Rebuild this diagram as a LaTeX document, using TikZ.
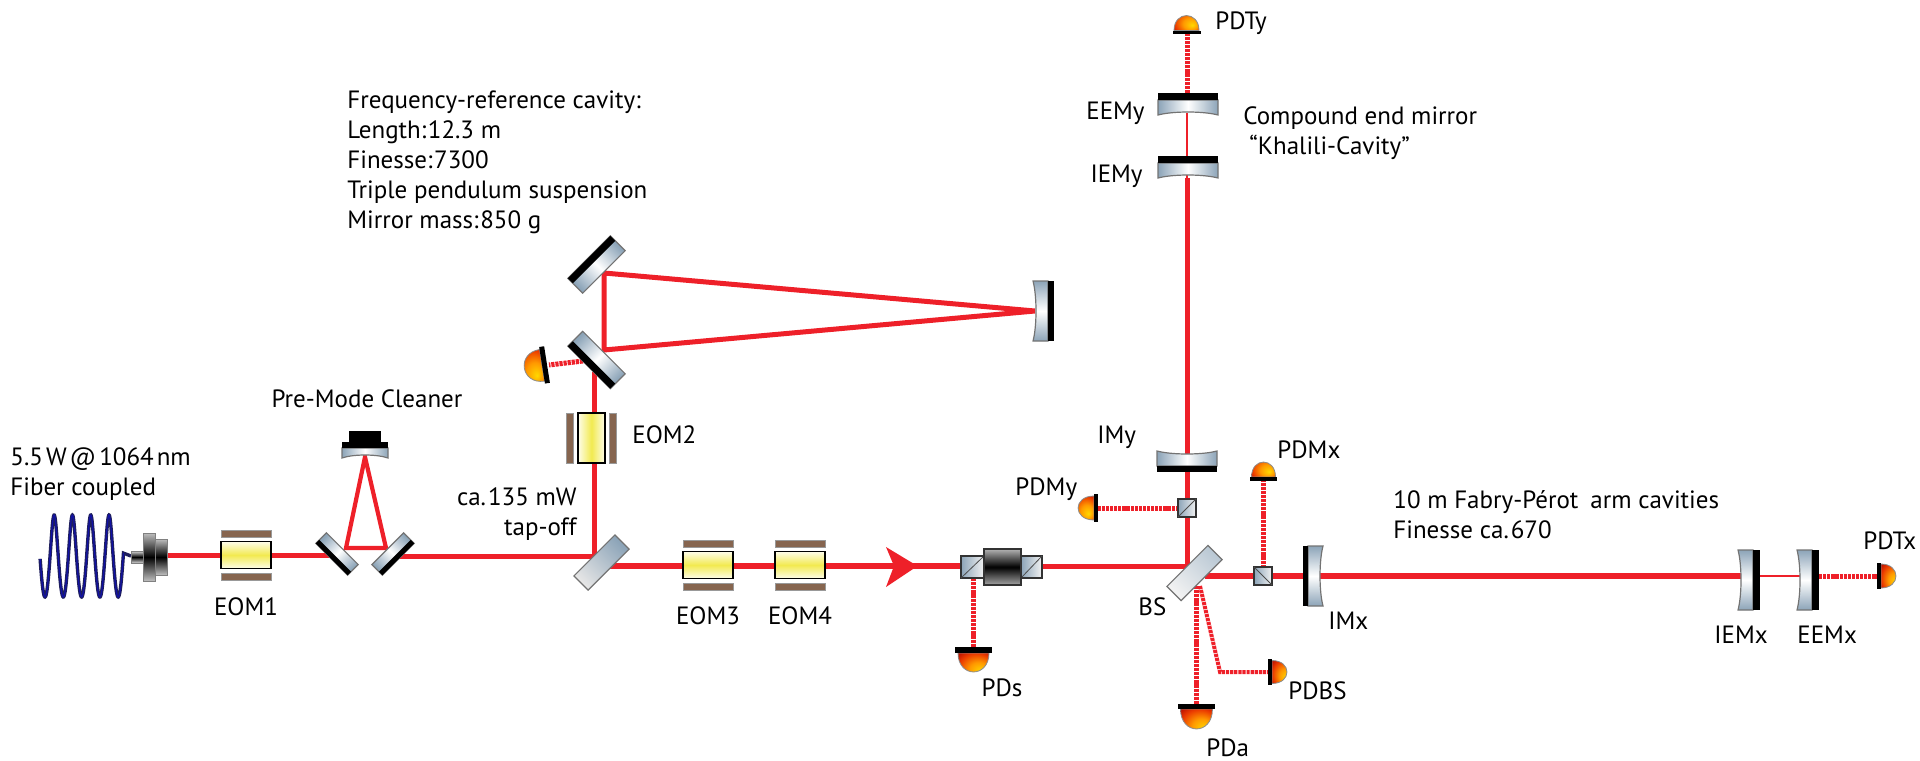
\documentclass[tikz,border=0pt]{standalone}
\usepackage{fontspec}
\setmainfont{PT Sans}
\usepackage{tikz}

\definecolor{beamred}{HTML}{EE2029}
\definecolor{steel}{HTML}{8CA4B8}
\definecolor{brownplate}{HTML}{86654F}
\definecolor{eomyellow}{HTML}{F2EA50}
\definecolor{fibreblue}{HTML}{1F1F5C}

\pgfdeclareradialshading{pddome}{\pgfpoint{12bp}{-12bp}}{%
  color(0bp)=(yellow!70!orange);
  color(15bp)=(orange!80!yellow);
  color(29bp)=(orange!50!red!92!black);
  color(42bp)=(red!65!black);
  color(50bp)=(red!55!black)}

\begin{document}
\begin{tikzpicture}[x=0.5pt,y=-0.5pt,
    beam/.style={beamred,line width=2.5pt,line join=miter},
    thickbeam/.style={beamred,line width=3.3pt},
    thinbeam/.style={beamred,line width=1.2pt},
    pdbeam/.style={beamred,line width=2.5pt,dash pattern=on 1.6pt off 0.45pt},
    label/.style={font=\fontsize{12.5}{15.1}\selectfont,inner sep=0pt},
    glass/.style={draw=black!55,line width=0.6pt},
    cube/.style={draw=black!80,line width=0.6pt,left color=steel,right color=black!5},
    % tilted flat mirror: length, thickness, shading angle, side of the coating
    pics/flatmirror/.style n args={4}{code={
      \shade[glass,left color=steel,right color=steel,middle color=white,shading angle=#3]
        (-#1/2,-#2/2) rectangle (#1/2,#2/2);
      \fill[black] (-#1/2,#4*#2/2) rectangle (#1/2,#4*#2/6);
    }},
    % curved mirror: half length, coating, body, shading angle
    pics/curvedmirror/.style n args={4}{code={
      \shade[glass,left color=steel,right color=steel,middle color=white,shading angle=#4]
        (-#1,#2) -- (#1,#2) -- (#1,#2+#3)
        .. controls (#1/2,#2+#3-4) and (-#1/2,#2+#3-4) .. (-#1,#2+#3) -- cycle;
      \fill[black] (-#1,0) rectangle (#1,#2);
    }},
    % photodiode: half strip, strip, half dome, dome height
    pics/photodiode/.style n args={4}{code={
      \shade[shading=pddome,draw=black!45,line width=0.4pt]
        (-#3,#2) .. controls (-#3,#2+1.33*#4) and (#3,#2+1.33*#4) .. (#3,#2) -- cycle;
      \fill[black] (-#1,0) rectangle (#1,#2);
    }},
    % electro-optic modulator with its two plates
    pics/eom/.style={code={
      \shade[draw=black,line width=0.6pt,left color=eomyellow!12,right color=eomyellow!12,
        middle color=eomyellow,shading angle=#1] (-25,-13.5) rectangle (25,13.5);
      \fill[brownplate,draw=black!40,line width=0.3pt] (-25,-25) rectangle (25,-18);
      \fill[brownplate,draw=black!40,line width=0.3pt] (-25,18) rectangle (25,25);
    }}]
  \useasboundingbox (0,0) rectangle (1920,760);

  % points on the beam path
  \coordinate (coupler) at (167,555);
  \coordinate (pmcL) at (337,555);
  \coordinate (pmcR) at (393,556);
  \coordinate (pmcA) at (346,548);
  \coordinate (pmcB) at (386,548);
  \coordinate (pmcT) at (365,457);
  \coordinate (tapin) at (594,556);
  \coordinate (tapout) at (605,566);
  \coordinate (tapup) at (594,372);
  \coordinate (frcA) at (604,350);
  \coordinate (frcB) at (604,273);
  \coordinate (frcC) at (1035,311);
  \coordinate (isoOut) at (1042,566);
  \coordinate (isoPD) at (973,578);
  \coordinate (pdsTop) at (973,647);
  \coordinate (bsIn) at (1187,566);
  \coordinate (bsOut) at (1205,576);
  \coordinate (bsA) at (1196,586);
  \coordinate (bsB) at (1200,586);
  \coordinate (bsBend) at (1220,672);
  \coordinate (cubeY) at (1187,508);
  \coordinate (cubeX) at (1263,576);
  \coordinate (imy) at (1187,451);
  \coordinate (iemy) at (1187,178);
  \coordinate (eemy) at (1187,113);
  \coordinate (pdty) at (1187,34);
  \coordinate (eemyB) at (1187,93);
  \coordinate (pdmy) at (1097,508);
  \coordinate (pdmx) at (1263,481);
  \coordinate (pda) at (1196,704);
  \coordinate (pdbs) at (1268,672);
  \coordinate (iemx) at (1753,576);
  \coordinate (iemxB) at (1760,576);
  \coordinate (eemx) at (1800,576);
  \coordinate (eemxB) at (1819,576);
  \coordinate (pdtx) at (1877,576);
  \coordinate (tapPD) at (583,361);
  \coordinate (tapPDend) at (549,365);

  % fibre coil
  \draw[fibreblue,line width=1.7pt] plot[domain=-86:1534,samples=260]
    ({45+0.05083*\x+0.5*sin(\x)},{556+41*cos(\x)}) -- (131,556);
  \draw[blue!45!fibreblue,line width=0.6pt] plot[domain=-86:1534,samples=260]
    ({45+0.05083*\x+0.5*sin(\x)},{556+41*cos(\x)});

  % beams
  \draw[beam] (coupler) -- (pmcL);
  \draw[beam,line width=2.1pt] (pmcA) -- (pmcB) -- (pmcT) -- cycle;
  \draw[beam] (pmcR) -- (tapin);
  \draw[beam] (tapin) -- (tapup);
  \draw[beam] (frcA) -- (frcC) -- (frcB) -- cycle;
  \draw[thickbeam] (tapout) -- (isoOut);
  \draw[beam] (isoOut) -- (bsIn);
  \draw[beam] (bsIn) -- (imy);
  \draw[beam] (imy) -- (iemy);
  \draw[thinbeam] (iemy) -- (eemy);
  \draw[thickbeam] (bsOut) -- (iemx);
  \draw[thinbeam] (iemxB) -- (eemx);

  % detection beams
  \draw[pdbeam] (tapPD) -- (tapPDend);
  \draw[pdbeam] (isoPD) -- (pdsTop);
  \draw[pdbeam] (cubeY) -- (pdmy);
  \draw[pdbeam] (cubeX) -- (pdmx);
  \draw[pdbeam] (eemyB) -- (pdty);
  \draw[pdbeam] (eemxB) -- (pdtx);
  \draw[pdbeam] (bsA) -- (pda);
  \draw[pdbeam,line width=2pt] (bsB) -- (bsBend) -- (pdbs);

  % direction of the beam
  \fill[beamred] (917.5,566) -- (886,547) -- (894,566) -- (886,587) -- cycle;

  % fibre coupler
  \shade[draw=black!50,line width=0.4pt,top color=black!15,bottom color=black!15,middle color=black]
    (131,551) rectangle (143,563);
  \shade[draw=black!50,line width=0.4pt,top color=black!25,bottom color=black!25,middle color=black]
    (155,539) rectangle (167,575);
  \shade[draw=black!50,line width=0.4pt,top color=black!25,bottom color=black!25,middle color=black]
    (143,533) rectangle (155,581);

  % modulators
  \pic at (246,555) {eom=0};
  \pic[rotate=90] at (591.5,438) {eom=90};
  \pic at (708,565) {eom=0};
  \pic at (800,565) {eom=0};

  % pre-mode cleaner
  \pic[rotate=-45] at (337,554) {flatmirror={45}{15}{45}{1}};
  \pic[rotate=45] at (393,554) {flatmirror={45}{15}{-45}{1}};
  \pic at (365,442) {curvedmirror={23}{6}{10}{90}};
  \fill[black] (349,431) rectangle (381,442);

  % frequency-reference cavity
  \pic[rotate=45] at (596.5,264.5) {flatmirror={60}{21}{-45}{-1}};
  \pic[rotate=-45] at (596.5,360) {flatmirror={60}{21}{45}{1}};
  \pic[rotate=-90] at (1054,311) {curvedmirror={30}{6}{15}{0}};
  \pic[rotate=-81] at (547,364.5) {photodiode={18.5}{5}{16}{18}};

  % tap-off mirror and beam splitter
  \shade[glass,rotate around={45:(601.5,562.5)},left color=steel,right color=black!10,shading angle=-45]
    (572.5,552.5) rectangle (630.5,572.5);
  \shade[glass,rotate around={45:(1194.5,573)},left color=steel!60,right color=black!5,shading angle=-45]
    (1165.5,563) rectangle (1223.5,583);

  % isolator
  \shade[cube] (961,556) rectangle (984,578);
  \draw[black!70,line width=0.4pt] (961,578) -- (984,556);
  \shade[cube] (1021,556) rectangle (1042,578);
  \draw[black!70,line width=0.4pt] (1021,578) -- (1042,556);
  \shade[draw=black!80,line width=0.6pt,top color=black!30,bottom color=black!35,middle color=black]
    (984,549) rectangle (1021,585);

  % polarising cubes
  \shade[cube] (1178,499) rectangle (1196,517);
  \draw[black!70,line width=0.4pt] (1178,517) -- (1196,499);
  \shade[cube] (1254,567) rectangle (1272,585);
  \draw[black!70,line width=0.4pt] (1254,567) -- (1272,585);

  % arm mirrors
  \pic[rotate=180] at (1187,472) {curvedmirror={30}{6}{15}{90}};
  \pic at (1188,93) {curvedmirror={30}{7}{15}{90}};
  \pic at (1188,156) {curvedmirror={30}{7}{15}{90}};
  \pic[rotate=90] at (1303,576) {curvedmirror={30}{5}{15}{0}};
  \pic[rotate=-90] at (1760,580) {curvedmirror={30}{7}{15}{0}};
  \pic[rotate=-90] at (1819,580) {curvedmirror={30}{7}{15}{0}};

  % photodiodes
  \pic at (973.5,647) {photodiode={18.5}{6}{15.5}{19}};
  \pic at (1196.5,704) {photodiode={18.5}{5}{16}{20}};
  \pic[rotate=180] at (1186.5,34) {photodiode={14}{3.5}{12.5}{15}};
  \pic[rotate=180] at (1263.5,481) {photodiode={13.5}{4}{12}{15}};
  \pic[rotate=-90] at (1097.5,508) {photodiode={14}{3.5}{12}{16}};
  \pic[rotate=90] at (1268,672) {photodiode={13}{4}{11.5}{15}};
  \pic[rotate=90] at (1877,576) {photodiode={13}{4}{12}{15}};

  % labels
  \node[label,anchor=west,align=left] (laser) at (10,474)
    {5.5\hspace{1.5pt}W\hspace{1.5pt}@\hspace{1.5pt}1064\hspace{1.5pt}nm\\Fiber coupled};
  \node[label,anchor=base] (lblPMC) at (367,407) {Pre-Mode Cleaner};
  \node[label,anchor=base] (lblEOM1) at (246,615) {EOM1};
  \node[label,anchor=base west] (lblEOM2) at (632,443) {EOM2};
  \node[label,anchor=base] (lblEOM3) at (708,624) {EOM3};
  \node[label,anchor=base] (lblEOM4) at (800,624) {EOM4};
  \node[label,anchor=east,align=right] (lblTap) at (577,514) {ca.\hspace{1pt}135 mW\\tap-off};
  \node[label,anchor=north west,align=left] (lblFRC) at (347,90)
    {Frequency-reference cavity:\\Length:\hspace{0.8pt}12.3 m\\Finesse:\hspace{0.8pt}7300\\Triple pendulum suspension\\Mirror mass:\hspace{0.8pt}850 g};
  \node[label,anchor=base] (lblPDs) at (1002,696) {PDs};
  \node[label,anchor=base west] (lblPDTy) at (1215,29) {PDTy};
  \node[label,anchor=base east] (lblEEMy) at (1145,119) {EEMy};
  \node[label,anchor=base east] (lblIEMy) at (1143,182) {IEMy};
  \node[label,anchor=north west,align=left] (lblKhalili) at (1243,106)
    {Compound end mirror\\\hspace{3pt}``Khalili-Cavity''};
  \node[label,anchor=base west] (lblIMy) at (1097,443) {IMy};
  \node[label,anchor=base west] (lblPDMy) at (1015,495) {PDMy};
  \node[label,anchor=base west] (lblPDMx) at (1277,458) {PDMx};
  \node[label,anchor=base west] (lblBS) at (1138,615) {BS};
  \node[label,anchor=base west] (lblIMx) at (1328,629) {IMx};
  \node[label,anchor=base west] (lblPDBS) at (1288,699) {PDBS};
  \node[label,anchor=base west] (lblPDa) at (1206,756) {PDa};
  \node[label,anchor=north west,align=left] (lblArms) at (1393,490)
    {10 m Fabry-Pérot\hspace{6pt}arm cavities\\Finesse ca.\hspace{1pt}670};
  \node[label,anchor=base west] (lblIEMx) at (1714,643) {IEMx};
  \node[label,anchor=base west] (lblEEMx) at (1797,643) {EEMx};
  \node[label,anchor=base west] (lblPDTx) at (1863,549) {PDTx};
\end{tikzpicture}
\end{document}
